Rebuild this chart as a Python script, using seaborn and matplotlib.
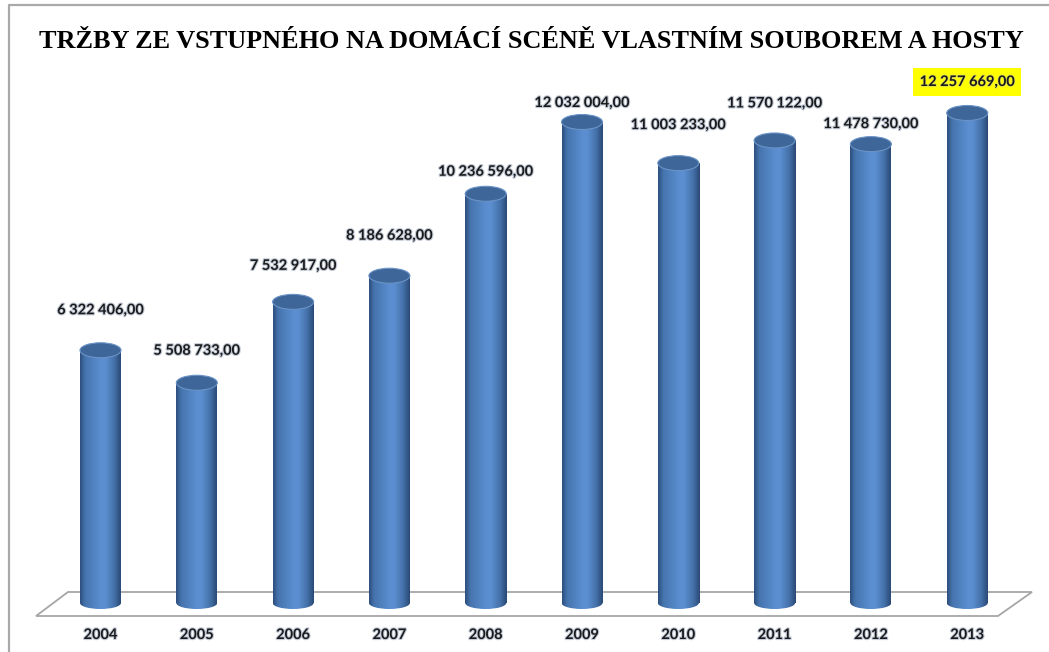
import numpy as np
import matplotlib
matplotlib.use("Agg")
import matplotlib.pyplot as plt
import matplotlib.patheffects as pe
from matplotlib.patches import Ellipse, Polygon
from matplotlib.colors import LinearSegmentedColormap
import seaborn as sns

# data
years = ["2004", "2005", "2006", "2007", "2008", "2009", "2010", "2011", "2012", "2013"]
revenue = [6322406.00, 5508733.00, 7532917.00, 8186628.00, 10236596.00,
           12032004.00, 11003233.00, 11570122.00, 11478730.00, 12257669.00]
title = "TRŽBY ZE VSTUPNÉHO NA DOMÁCÍ SCÉNĚ VLASTNÍM SOUBOREM A HOSTY"

# label gap above each cylinder top (pixels), as Excel placed them
label_gap_px = [40, 32, 36, 40, 22, 19, 38, 37, 20, 31]
highlight = "2013"

W, H = 1049, 652
X0, DX = 100.5, 96.3          # pixel centre of first bar, bar spacing
Y0, S = 603, 25015.0          # pixel row of zero, value per pixel

sns.set_theme(style="white")
plt.rcParams["font.family"] = ["Lato", "DejaVu Sans"]

fig = plt.figure(figsize=(W / 100, H / 100), dpi=100)
ax = fig.add_axes([0, 0, 1, 1])


def px(x, y):
    # pixel (from top-left) -> data coords
    return (x - X0) / DX, (Y0 - y) * S


bw = 41 / DX
sns.barplot(x=years, y=revenue, width=bw, color="#4a7bb7", ax=ax,
            zorder=2, linewidth=0, saturation=1)
ax.set_xlim(-X0 / DX, (W - X0) / DX)
ax.set_ylim(-(H - Y0) * S, Y0 * S)
ax.axis("off")
bars = list(ax.containers[0])

# floor
floor = Polygon([px(36, 616), px(998, 616), px(1032, 592), px(68, 592)],
                closed=True, facecolor="white", edgecolor="#a6a6a6", lw=1.3, zorder=1)
ax.add_patch(floor)

# frame
ax.plot(*zip(px(9, 652), px(9, 5), px(1049, 5)), color="#a9a9a9", lw=1.6, zorder=1)

cyl = LinearSegmentedColormap.from_list(
    "cyl", [(0, "#2d4f7e"), (0.12, "#4674ae"), (0.5, "#5a8ed0"),
            (0.62, "#5b8fd1"), (0.85, "#4470a8"), (1, "#2a4a76")])
grad = np.linspace(0, 1, 64).reshape(1, -1)
top_h = 15 * S
bot_h = 12 * S

for bar, val in zip(bars, revenue):
    x = bar.get_x()
    w = bar.get_width()
    cx = x + w / 2
    im = ax.imshow(grad, cmap=cyl, aspect="auto", extent=(x, x + w, -bot_h, val),
                   zorder=3, interpolation="bicubic")
    im.set_clip_path(bar)
    bot = Ellipse((cx, 0), w, bot_h, facecolor="none", edgecolor="none", zorder=3)
    ax.add_patch(bot)
    im2 = ax.imshow(grad, cmap=cyl, aspect="auto", extent=(x, x + w, -bot_h, val),
                    zorder=3, interpolation="bicubic")
    im2.set_clip_path(bot)
    ax.add_patch(Ellipse((cx, val), w, top_h, facecolor="#3f6699",
                         edgecolor="#6a93c6", lw=0.8, zorder=4))

ax.set_xlim(-X0 / DX, (W - X0) / DX)
ax.set_ylim(-(H - Y0) * S, Y0 * S)

glow = [pe.withStroke(linewidth=1.6, foreground="#c3cbd8")]

for i, (yr, val, gap) in enumerate(zip(years, revenue, label_gap_px)):
    txt = f"{val:,.2f}".replace(",", " ").replace(".", ",")
    ty = val + gap * S
    kw = dict(ha="center", va="center", fontsize=10.5, fontweight="bold",
              color="#1a1a1a", zorder=6)
    if yr == highlight:
        t = ax.text(i, ty, txt, bbox=dict(boxstyle="square,pad=0.45",
                                          facecolor="#ffff00", edgecolor="none"), **kw)
        t.set_path_effects([pe.withStroke(linewidth=1.0, foreground="#d8d860")])
    else:
        t = ax.text(i, ty, txt, **kw)
        t.set_path_effects(glow)
    yt = ax.text(i, px(0, 635)[1], yr, ha="center", va="center", fontsize=10.5,
                 fontweight="bold", color="#1a1a1a", zorder=6)
    yt.set_path_effects(glow)

fig.text(531 / W, 1 - 42 / H, title, ha="center", va="center",
         fontsize=18.9, fontweight="bold", family=["Liberation Serif", "DejaVu Serif"],
         color="black")

fig.savefig("out.png", dpi=100)
